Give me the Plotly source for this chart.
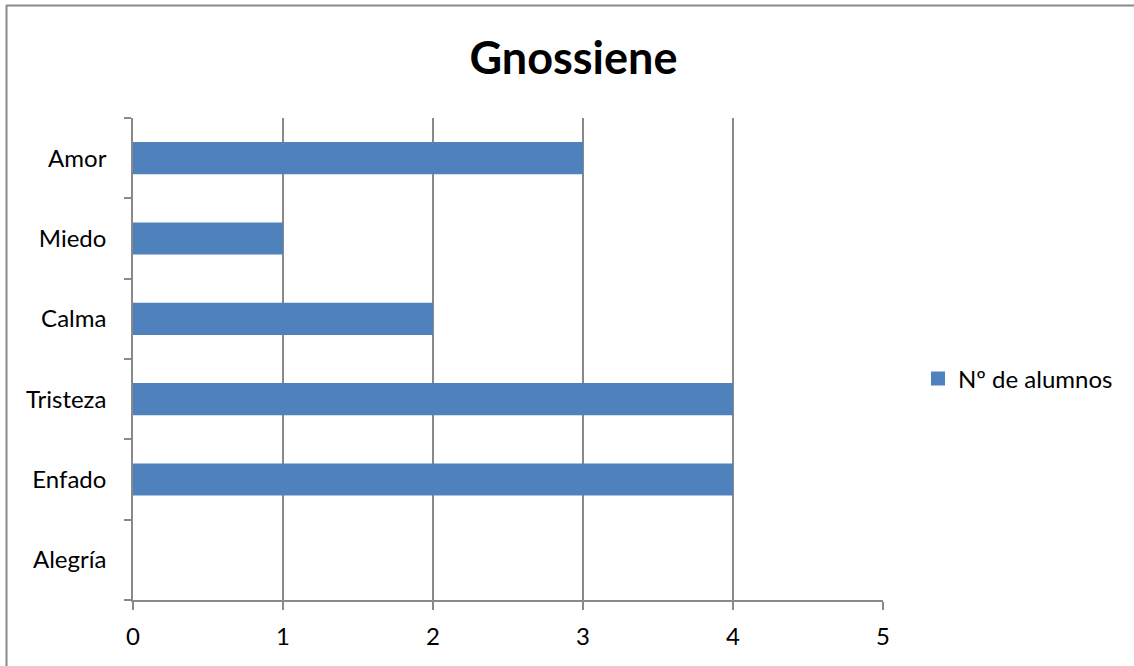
import plotly.graph_objects as go

categories = ["Alegría", "Enfado", "Tristeza", "Calma", "Miedo", "Amor"]
values = [0, 4, 4, 2, 1, 3]
series_name = "Nº de alumnos"
title = "Gnossiene"
x_ticks = [0, 1, 2, 3, 4, 5]

W, H = 1134, 666
L, R, T, B = 133, 883, 118, 600
pw, ph = R - L, B - T
BAR = "#4F81BD"
GRID = "#898989"

def px_x(p):
    return (p - L) / pw

def px_y(p):
    return (B - p) / ph

fig = go.Figure()
fig.add_trace(go.Bar(
    y=categories, x=values, orientation="h", name=series_name,
    marker=dict(color=BAR, line=dict(width=0)),
    showlegend=False,
))
# legend entry with a larger square swatch
fig.add_trace(go.Scatter(
    x=[None], y=[None], mode="markers", name=series_name,
    marker=dict(symbol="square", size=14, color=BAR),
    showlegend=True,
))

font = "Lato, 'Open Sans', sans-serif"
fig.update_layout(
    width=W, height=H,
    margin=dict(l=L, r=W - R, t=T, b=H - B, pad=0),
    paper_bgcolor="white", plot_bgcolor="white",
    bargap=0.6,
    title=dict(text="<b>" + title + "</b>", x=(470 + 677) / 2 / W, xanchor="center",
               y=1 - 58 / H, yanchor="middle",
               font=dict(family=font, size=45, color="black")),
    font=dict(family=font, size=24, color="black"),
    legend=dict(x=px_x(918), y=px_y(379), xanchor="left", yanchor="middle",
                font=dict(size=24), itemwidth=30, bgcolor="rgba(0,0,0,0)"),
    xaxis=dict(range=[0, 5], tickvals=x_ticks, showgrid=True, gridcolor=GRID,
               gridwidth=1.6, showline=True, linecolor=GRID, linewidth=1.6,
               ticks="outside", ticklen=8, tickcolor=GRID, tickwidth=1.6,
               zeroline=False, fixedrange=True, ticklabelstandoff=6),
    yaxis=dict(categoryorder="array", categoryarray=categories, showgrid=False,
               showline=True, linecolor=GRID, linewidth=1.6,
               ticks="outside", ticklen=7, tickcolor=GRID, tickwidth=1.6,
               tickson="boundaries", zeroline=False, ticklabelstandoff=20),
)

# outer chart border (top and left visible)
fig.add_shape(type="line", xref="paper", yref="paper",
              x0=px_x(6), x1=px_x(1134), y0=px_y(5.5), y1=px_y(5.5),
              line=dict(color=GRID, width=2))
fig.add_shape(type="line", xref="paper", yref="paper",
              x0=px_x(6.5), x1=px_x(6.5), y0=px_y(5), y1=px_y(666),
              line=dict(color=GRID, width=2))

fig.write_html("out.html", config={"displayModeBar": False},
               post_script="document.body.style.margin='0';document.body.style.overflow='hidden';")
